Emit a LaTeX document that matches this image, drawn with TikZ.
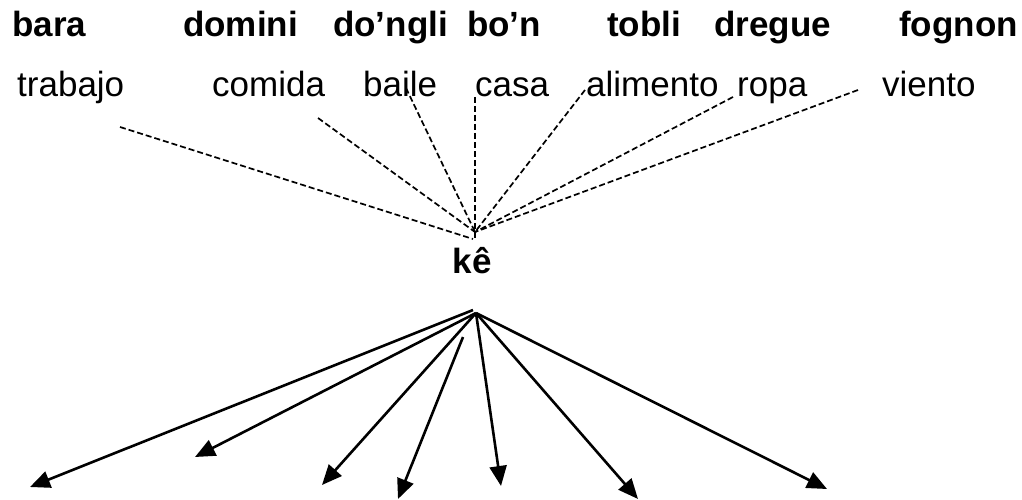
\documentclass[tikz,border=0pt]{standalone}
\usepackage{fontspec}
\setmainfont{Liberation Sans}
\usetikzlibrary{arrows.meta}
\tikzset{
  bw/.style={anchor=base west,inner sep=0pt,font=\fontsize{35}{42}\selectfont\bfseries},
  rw/.style={anchor=base west,inner sep=0pt,font=\fontsize{35}{42}\selectfont},
  dashline/.style={draw=black,line width=1.7pt,dash pattern=on 6pt off 3pt},
  arrowline/.style={draw=black,line width=2.6pt,-{Triangle[length=20pt,width=17pt]}},
}
\begin{document}
\begin{tikzpicture}[x=1pt,y=-1pt]
\useasboundingbox (0,0) rectangle (1022,500);
% top row
\node[bw] (bara) at (12,37) {bara};
\node[bw] (domini) at (183,37) {domini};
\node[bw] (dongli) at (333,37) {do’ngli};
\node[bw] (bon) at (467,37) {bo’n};
\node[bw] (tobli) at (607,37) {tobli};
\node[bw] (dregue) at (714,37) {dregue};
\node[bw] (fognon) at (899,37) {fognon};
% second row
\node[rw] (trabajo) at (17,97) {trabajo};
\node[rw] (comida) at (212,97) {comida};
\node[rw] (baile) at (363,97) {baile};
\node[rw] (casa) at (475,97) {casa};
\node[rw] (alimento) at (586,97) {alimento};
\node[rw] (ropa) at (737,97) {ropa};
\node[rw] (viento) at (882,97) {viento};
% center
\node[anchor=base,inner sep=0pt,font=\fontsize{35}{42}\selectfont\bfseries] (ke) at (472,273) {kê};
% hubs
\coordinate (hub) at (475,232);
\coordinate (hubl) at (473,239);
\coordinate (hubc) at (475,240);
\coordinate (src) at (476,313);
% dashed line ends
\coordinate (dtra) at (120,127);
\coordinate (dcom) at (318,118);
\coordinate (dbai) at (406,88);
\coordinate (dcas) at (475,97);
\coordinate (dali) at (585,90);
\coordinate (drop) at (733,97);
\coordinate (dvie) at (858,90);
\draw[dashline] (dtra) -- (hubl);
\draw[dashline] (dcom) -- (hub);
\draw[dashline] (dbai) -- (hub);
\draw[dashline] (dcas) -- (hubc);
\draw[dashline] (dali) -- (hub);
\draw[dashline] (drop) -- (hub);
\draw[dashline] (dvie) -- (hub);
% arrows
\coordinate (s1) at (473,310);
\coordinate (s4) at (463,337);
\coordinate (t1) at (30,487);
\coordinate (t2) at (195,457);
\coordinate (t3) at (322,485);
\coordinate (t4) at (398,499);
\coordinate (t5) at (501,486);
\coordinate (t6) at (638,499);
\coordinate (t7) at (827,489);
\draw[arrowline] (s1) -- (t1);
\draw[arrowline] (src) -- (t2);
\draw[arrowline] (src) -- (t3);
\draw[arrowline] (s4) -- (t4);
\draw[arrowline] (src) -- (t5);
\draw[arrowline] (src) -- (t6);
\draw[arrowline] (src) -- (t7);
\end{tikzpicture}
\end{document}
